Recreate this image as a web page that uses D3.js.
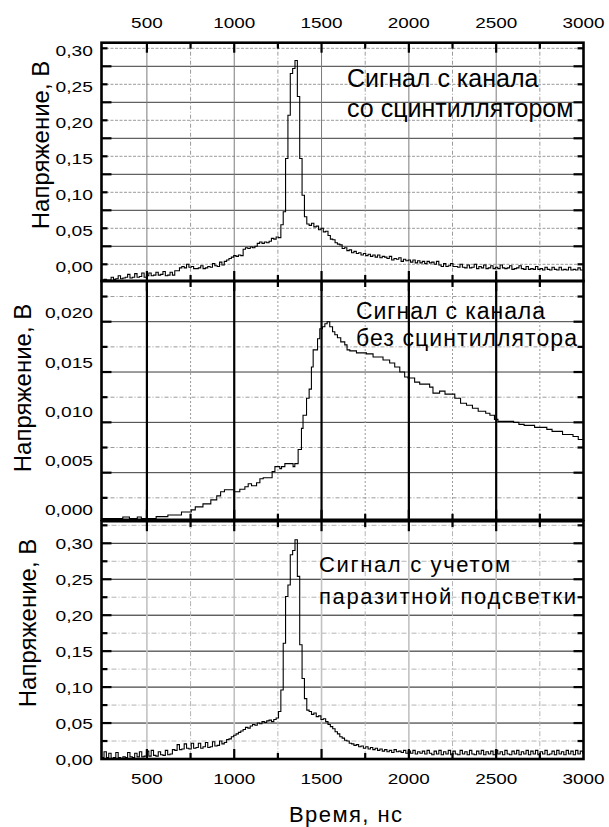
<!DOCTYPE html>
<html><head><meta charset="utf-8">
<script src="https://cdn.jsdelivr.net/npm/d3@7"></script>
<style>
body{margin:0;background:#fff}
svg{display:block}
text{font-family:"Liberation Sans",Arial,Helvetica,sans-serif;fill:#000}
</style>
</head><body>
<svg id="chart" width="609" height="827"></svg>
<script>
// ---------------- DATA ----------------
const timeDomain_ns = [240, 3000];
const xMajorTicks = [500, 1000, 1500, 2000, 2500, 3000];
const xMinorTicks = [750, 1250, 1750, 2250, 2750];
const xTickLabels = ["500", "1000", "1500", "2000", "2500", "3000"];

// histogram bins of the two pulse signals
const binStart_ns = 241;
const binWidth_ns = 13.5;

// top panel: signal from the channel with scintillator (mV)
const topSignal_mV = [
 -22,-21,-22,-22,-18,-21,-20,-16,-20,-19,
 -18,-14,-19,-18,-13,-18,-17,-12,-18,-16,
 -12,-16,-15,-11,-15,-14,-10,-16,-15,-11,
 -15,-9,-9,-5,-3,-5,0,-4,-3,-6,
 -6,-5,-2,-6,-5,-3,-4,1,-2,-3,
 3,-1,4,6,8,10,12,11,13,12,
 21,23,22,24,23,25,29,31,29,31,
 30,32,36,35,38,37,55,73,147,207,
 265,272,283,233,147,96,66,56,54,57,
 52,53,48,50,45,46,40,35,34,30,
 28,27,22,23,19,20,16,18,15,16,
 13,15,12,14,11,13,10,13,9,11,
 10,8,11,6,8,7,9,4,7,5,
 6,3,6,2,5,2,4,1,4,2,
 3,0,4,-1,-3,1,-3,-2,1,-3,
 -3,-4,0,-4,-5,-1,-5,-4,0,-6,
 -3,-5,-1,-6,-5,-2,-6,-4,-6,-1,
 -5,-6,-5,-2,-7,-6,-5,-2,-6,-7,
 -3,-7,-6,-7,-3,-7,-6,-8,-4,-7,
 -8,-4,-7,-8,-4,-8,-7,-8,-4,-8,
 -7,-8,-5,-8,-8
];

// bottom panel: signal corrected for stray light (mV)
const bottomSignal_mV = [
 2,10,2,8,1,2,9,2,1,3,
 2,9,3,2,8,3,10,3,4,11,
 4,12,5,4,10,6,5,12,6,7,
 13,12,20,13,14,21,15,14,22,15,
 16,22,15,17,23,16,17,24,18,19,
 25,21,23,27,28,31,33,35,37,39,
 41,44,43,46,48,47,50,49,52,51,
 53,54,52,55,57,66,96,161,226,242,
 284,290,305,254,159,112,84,68,66,62,
 64,59,60,55,56,52,48,45,42,38,
 35,31,29,26,25,22,21,19,20,17,
 18,15,17,14,16,13,15,12,14,11,
 13,10,12,9,13,10,11,9,12,8,
 11,8,12,7,10,8,11,7,12,8,
 6,11,7,12,6,10,7,12,6,11,
 7,6,12,7,10,6,12,7,6,11,
 7,12,6,10,7,11,6,12,7,10,
 6,12,7,6,11,7,12,6,10,7,
 12,6,11,7,12,6,10,7,12,6,
 7,11,6,12,7,10,6,12,7,11,
 6,12,7,11,8
];

// middle panel: signal from the channel without scintillator (step starts, mV)
const midTimes_ns = [
 240,362,400,445,468,553,620,698,754,777,
 821,866,900,922,944,1000,1032,1061,1080,1099,
 1128,1147,1166,1217,1233,1261,1271,1290,1337,1347,
 1366,1385,1394,1414,1429,1442,1452,1477,1490,1505,
 1519,1532,1547,1563,1576,1591,1610,1633,1646,1662,
 1700,1757,1795,1852,1890,1919,1948,1976,1995,2033,
 2062,2119,2138,2176,2207,2263,2296,2330,2364,2397,
 2440,2464,2490,2510,2600,2630,2660,2720,2790,2820,
 2880,2940,2970
];
const midSignal_mV = [
 0.45,0.6,0.45,0.6,0.45,0.63,0.8,1.1,1.3,1.6,
 1.9,2.3,2.7,3.1,3.3,3.1,3.35,3.6,3.9,3.7,
 4.0,4.4,4.5,5.1,5.6,5.4,5.6,5.9,5.6,5.9,
 7.3,9.4,10.7,12.4,13.3,15.5,17.2,18.3,19.3,19.5,
 19.8,20.0,19.5,19.0,18.7,18.4,18.0,17.7,17.2,17.1,
 16.9,16.8,16.5,16.2,15.9,15.5,15.0,14.5,14.4,14.0,
 13.8,13.5,12.9,13.1,12.8,12.4,11.9,11.7,11.4,11.1,
 10.9,10.7,10.3,10.1,10.0,9.8,9.7,9.5,9.3,9.1,
 8.8,8.6,8.3
];

const voltTicks = [0, 0.05, 0.10, 0.15, 0.20, 0.25, 0.30];
const voltTickLabels = ["0,00","0,05","0,10","0,15","0,20","0,25","0,30"];
const voltHalfTicks = [0.025, 0.075, 0.125, 0.175, 0.225, 0.275, 0.325];
const midVoltTicks = [0, 0.005, 0.010, 0.015, 0.020];
const midVoltTickLabels = ["0,000","0,005","0,010","0,015","0,020"];
const midVoltHalfTicks = [0.0025, 0.0075, 0.0125, 0.0175, 0.0225];

const yTitle = "Напряжение, В";
const xTitle = "Время, нс";
const topNote = ["Сигнал с канала", "со сцинтиллятором"];
const midNote = ["Сигнал с канала", "без сцинтиллятора"];
const botNote = ["Сигнал с учетом", "паразитной подсветки"];

// ---------------- LAYOUT ----------------
const svg = d3.select("#chart");
const X0 = 101.5, X1 = 583.5;
const x = d3.scaleLinear().domain(timeDomain_ns).range([X0, X1]);

function binPoints(vals) {
  const pts = vals.map((v, i) => [binStart_ns + i * binWidth_ns, v / 1000]);
  pts.push([binStart_ns + vals.length * binWidth_ns, vals[vals.length - 1] / 1000]);
  return pts;
}
function stepPoints(ts, vals) {
  const pts = ts.map((t, i) => [t, vals[i] / 1000]);
  pts.push([timeDomain_ns[1], vals[vals.length - 1] / 1000]);
  return pts;
}

const panels = [
  {
    id: "top", y0: 42.7, y1: 281,
    y: d3.scaleLinear().domain([0, 0.30]).range([264.3, 48.3]),
    lab: d3.scaleLinear().domain([0, 0.30]).range([266.5, 50.7]),
    ticks: voltTicks, labels: voltTickLabels,
    solidH: voltHalfTicks, dashH: voltTicks,
    hSolid: {stroke: "#3a3a3a", w: 1, dash: null},
    hDash: {stroke: "#9a9a9a", w: 1, dash: "3,1.5"},
    vSolid: {stroke: "#7a7a7a", w: 1, dash: null},
    vDash: {stroke: "#9a9a9a", w: 1, dash: "4,2,1,2"},
    pts: binPoints(topSignal_mV),
    titleX: 49, titleY: 145,
    note: topNote, noteX: 347, noteY: [86.5, 117.3], noteSize: 25, noteW: [null, null]
  },
  {
    id: "mid", y0: 281, y1: 519.8,
    y: d3.scaleLinear().domain([0, 0.020]).range([523, 321.7]),
    lab: d3.scaleLinear().domain([0, 0.020]).range([510, 313]),
    ticks: midVoltTicks, labels: midVoltTickLabels,
    solidH: midVoltTicks, dashH: midVoltHalfTicks,
    hSolid: {stroke: "#3a3a3a", w: 1, dash: null},
    hDash: {stroke: "#9a9a9a", w: 1, dash: "4,2,1,2"},
    vSolid: {stroke: "#000", w: 2.2, dash: null},
    vDash: {stroke: "#9a9a9a", w: 1, dash: "2,2"},
    pts: stepPoints(midTimes_ns, midSignal_mV),
    titleX: 31, titleY: 388,
    note: midNote, noteX: 356, noteY: [318.5, 345.5], noteSize: 23, noteW: [189, 221]
  },
  {
    id: "bot", y0: 521.2, y1: 759,
    y: d3.scaleLinear().domain([0, 0.30]).range([759, 543.3]),
    lab: d3.scaleLinear().domain([0, 0.30]).range([759.5, 544]),
    ticks: voltTicks, labels: voltTickLabels,
    solidH: voltTicks, dashH: voltHalfTicks,
    hSolid: {stroke: "#1a1a1a", w: 1, dash: null},
    hDash: {stroke: "#b4b4b4", w: 1, dash: "5,2,1,2"},
    vSolid: {stroke: "#c2c2c2", w: 1.6, dash: null},
    vDash: {stroke: "#b4b4b4", w: 1, dash: "5,2,1,2"},
    pts: binPoints(bottomSignal_mV),
    titleX: 36, titleY: 623,
    note: botNote, noteX: 319, noteY: [572, 603.5], noteSize: 22, noteW: [191, 257]
  }
];

const defs = svg.append("defs");

function styleLine(sel, s) {
  sel.attr("stroke", s.stroke).attr("stroke-width", s.w).attr("fill", "none");
  if (s.dash) sel.attr("stroke-dasharray", s.dash);
}

function stretchText(sel, factor) {
  sel.each(function () {
    const w = this.getComputedTextLength();
    d3.select(this).attr("textLength", w * factor).attr("lengthAdjust", "spacingAndGlyphs");
  });
}

panels.forEach(p => {
  const cid = "clip-" + p.id;
  defs.append("clipPath").attr("id", cid)
    .append("rect").attr("x", X0).attr("y", p.y0).attr("width", X1 - X0).attr("height", p.y1 - p.y0);
  const g = svg.append("g");
  const grid = g.append("g").attr("clip-path", `url(#${cid})`);

  // horizontal grid
  grid.selectAll(".hd").data(p.dashH.filter(v => p.y(v) > p.y0 + 1 && p.y(v) < p.y1 - 1)).enter()
    .append("line").attr("x1", X0).attr("x2", X1).attr("y1", d => p.y(d)).attr("y2", d => p.y(d))
    .call(styleLine, p.hDash);
  grid.selectAll(".hs").data(p.solidH.filter(v => p.y(v) > p.y0 + 1 && p.y(v) < p.y1 - 1)).enter()
    .append("line").attr("x1", X0).attr("x2", X1).attr("y1", d => p.y(d)).attr("y2", d => p.y(d))
    .call(styleLine, p.hSolid);
  // vertical grid
  grid.selectAll(".vd").data(xMinorTicks).enter()
    .append("line").attr("y1", p.y0).attr("y2", p.y1).attr("x1", d => x(d)).attr("x2", d => x(d))
    .call(styleLine, p.vDash);
  grid.selectAll(".vs").data(xMajorTicks.filter(t => t < 3000)).enter()
    .append("line").attr("y1", p.y0).attr("y2", p.y1).attr("x1", d => x(d)).attr("x2", d => x(d))
    .call(styleLine, p.vSolid);

  // data step line
  const line = d3.line().x(d => x(d[0])).y(d => p.y(d[1])).curve(d3.curveStepAfter);
  grid.append("path").attr("d", line(p.pts)).attr("fill", "none").attr("stroke", "#000").attr("stroke-width", 1.1);

  // ticks (inward, all four sides)
  const tk = g.append("g").attr("stroke", "#000").attr("stroke-width", 2.2);
  const inside = v => p.y(v) > p.y0 + 2 && p.y(v) < p.y1 - 2;
  p.solidH.filter(inside).forEach(v => {
    tk.append("line").attr("x1", X0).attr("x2", X0 + 10).attr("y1", p.y(v)).attr("y2", p.y(v));
    tk.append("line").attr("x1", X1).attr("x2", X1 - 10).attr("y1", p.y(v)).attr("y2", p.y(v));
  });
  p.dashH.filter(inside).forEach(v => {
    tk.append("line").attr("x1", X0).attr("x2", X0 + 6).attr("y1", p.y(v)).attr("y2", p.y(v));
    tk.append("line").attr("x1", X1).attr("x2", X1 - 6).attr("y1", p.y(v)).attr("y2", p.y(v));
  });
  xMajorTicks.filter(t => t < 3000).forEach(t => {
    tk.append("line").attr("x1", x(t)).attr("x2", x(t)).attr("y1", p.y0).attr("y2", p.y0 + 10);
    tk.append("line").attr("x1", x(t)).attr("x2", x(t)).attr("y1", p.y1).attr("y2", p.y1 - 10);
  });
  xMinorTicks.forEach(t => {
    tk.append("line").attr("x1", x(t)).attr("x2", x(t)).attr("y1", p.y0).attr("y2", p.y0 + 6);
    tk.append("line").attr("x1", x(t)).attr("x2", x(t)).attr("y1", p.y1).attr("y2", p.y1 - 6);
  });

  // frame
  g.append("rect").attr("x", X0).attr("y", p.y0).attr("width", X1 - X0).attr("height", p.y1 - p.y0)
    .attr("fill", "none").attr("stroke", "#000").attr("stroke-width", 2.6);

  // y tick labels
  const yl = g.append("g").selectAll("text").data(p.ticks).enter().append("text")
    .attr("x", 93).attr("y", d => p.lab(d)).attr("dy", "0.36em")
    .attr("text-anchor", "end").attr("font-size", 15)
    .text((d, i) => p.labels[i]);
  stretchText(yl, 1.28);

  // y title
  g.append("text").attr("transform", `translate(${p.titleX},${p.titleY}) rotate(-90)`)
    .attr("text-anchor", "middle").attr("font-size", 24).text(yTitle);

  // annotation
  p.note.forEach((s, i) => {
    const t = g.append("text").attr("x", p.noteX).attr("y", p.noteY[i])
      .attr("font-size", p.noteSize).text(s);
    if (p.noteW[i]) t.attr("textLength", p.noteW[i]).attr("lengthAdjust", "spacing");
  });
});

// x tick labels: top and bottom
[{y: 22.7}, {y: 778.7}].forEach(o => {
  const tl = svg.append("g").selectAll("text").data(xMajorTicks).enter().append("text")
    .attr("x", d => x(d)).attr("y", o.y).attr("dy", "0.36em")
    .attr("text-anchor", "middle").attr("font-size", 15)
    .text((d, i) => xTickLabels[i]);
  stretchText(tl, 1.26);
});

svg.append("text").attr("x", 345.5).attr("y", 822).attr("text-anchor", "middle")
  .attr("font-size", 22).attr("textLength", 113).attr("lengthAdjust", "spacing").text(xTitle);
</script>
</body></html>
